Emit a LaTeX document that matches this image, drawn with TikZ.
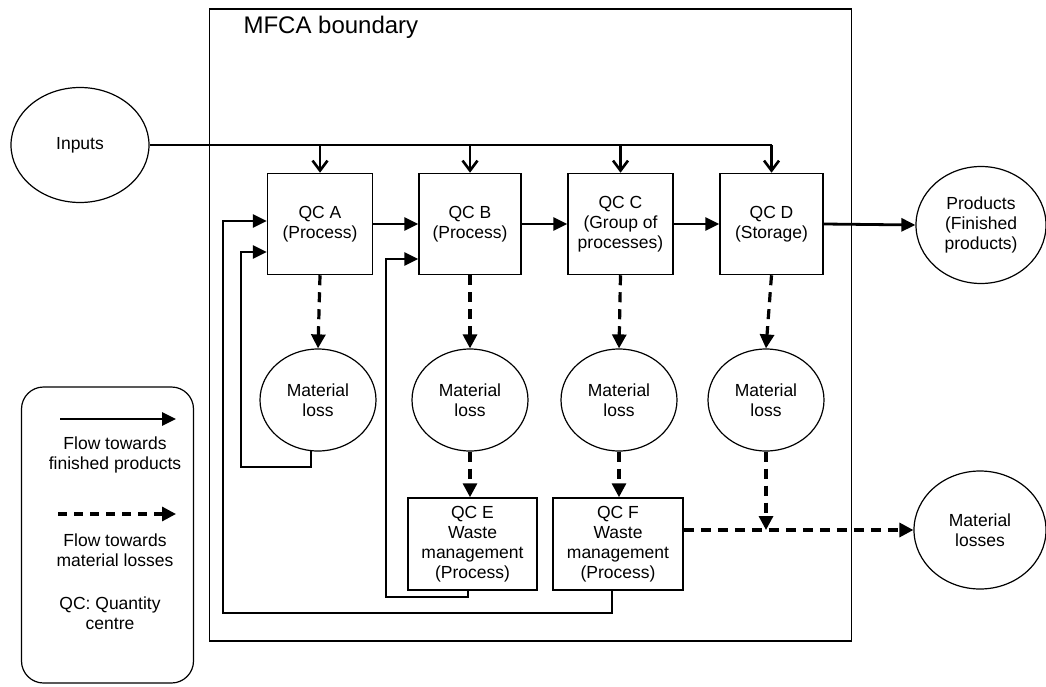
\documentclass[tikz,border=0pt]{standalone}
\usepackage{fontspec}
\setmainfont{Liberation Sans}
\usetikzlibrary{arrows.meta,shapes.geometric}
\begin{document}
\begin{tikzpicture}[x=1pt,y=-1pt,
  txt/.style={font=\fontsize{17.5}{20}\selectfont, align=center},
  qcbox/.style={txt, draw, line width=1.5pt, rectangle, inner sep=0pt},
  oval/.style={txt, draw, line width=1.2pt, ellipse, inner sep=0pt},
  flow/.style={line width=2.8pt, -{Triangle[length=14pt,width=13pt]}},
  feed/.style={line width=2.8pt, -{Triangle[length=14pt,width=13pt]}},
  inflow/.style={line width=2.6pt, -{Straight Barb[length=10pt,width=15pt]}},
  lossflow/.style={line width=3.2pt, dash pattern=on 10pt off 7pt, -{Triangle[length=14pt,width=14pt]}},
]
\useasboundingbox (0,0) rectangle (1046,687);
% MFCA boundary
\node[draw, line width=1.1pt, minimum width=642pt, minimum height=632pt, inner sep=0pt] (bound) at (530.5,325) {};
\node[font=\fontsize{24}{28}\selectfont, anchor=west] (btitle) at (240,27) {MFCA boundary};

% Inputs
\node[oval, minimum width=138pt, minimum height=115pt] (inputs) at (80,145) {Inputs};

% QC boxes
\node[qcbox, minimum width=105pt, minimum height=101pt] (qa) at (320,224) {QC A\\(Process)};
\node[qcbox, minimum width=102pt, minimum height=101pt] (qb) at (470,224) {QC B\\(Process)};
\node[qcbox, minimum width=105pt, minimum height=101pt] (qc) at (620.5,224) {QC C\\(Group of\\processes)};
\node[qcbox, minimum width=103pt, minimum height=101pt] (qd) at (771.5,224) {QC D\\(Storage)};

% Products
\node[oval, minimum width=130pt, minimum height=117pt] (prod) at (981,225) {Products\\(Finished\\products)};

% Material loss circles
\node[oval, minimum width=116pt, minimum height=102pt] (la) at (318,400) {Material\\loss};
\node[oval, minimum width=116pt, minimum height=102pt] (lb) at (470,400) {Material\\loss};
\node[oval, minimum width=116pt, minimum height=102pt] (lc) at (619,400) {Material\\loss};
\node[oval, minimum width=116pt, minimum height=102pt] (ld) at (766,400) {Material\\loss};

% QC E, F
\node[qcbox, minimum width=129pt, minimum height=92pt] (qe) at (472.5,544) {QC E\\Waste\\management\\(Process)};
\node[qcbox, minimum width=130pt, minimum height=92pt] (qf) at (618,544) {QC F\\Waste\\management\\(Process)};

% Material losses
\node[oval, minimum width=132pt, minimum height=118pt] (mloss) at (980,530) {Material\\losses};

% Inputs line
\coordinate (iend) at (qd.north |- inputs.east);
\draw[line width=2.6pt] (inputs.east) -- (iend);
\foreach \n in {qa,qb,qc,qd}{
  \draw[inflow] (\n.north |- inputs.east) -- (\n.north);
}

% Product flow
\draw[flow] (qa.east) -- (qb.west);
\draw[flow] (qb.east) -- (qc.west);
\draw[flow] (qc.east) -- (qd.west);
\draw[flow] (qd.east) -- (prod.west);

% Loss flows
\draw[lossflow] (qa.south) -- (la.north);
\draw[lossflow] (qb.south) -- (lb.north);
\draw[lossflow] (qc.south) -- (lc.north);
\draw[lossflow] (qd.south) -- (ld.north);
\draw[lossflow] (lb.south) -- (lb.south |- qe.north);
\draw[lossflow] (lc.south) -- (lc.south |- qf.north);
\coordinate (mjoin) at (ld.south |- mloss.west);
\draw[lossflow] (ld.south) -- (mjoin);
\draw[lossflow] (qf.east |- mloss.west) -- (mloss.west);

% Feedback loops
\coordinate (fa1) at (311,451);
\draw[feed] (fa1) -- (311,467) -- (241,467) -- (241,252) -- (qa.west |- 0,252);
\coordinate (fe1) at (468,590);
\draw[feed] (fe1) -- (468,597) -- (386,597) -- (386,259) -- (qb.west |- 0,259);
\coordinate (ff1) at (612,590);
\draw[feed] (ff1) -- (612,613) -- (223,613) -- (223,221) -- (qa.west |- 0,221);

% Legend
\node[draw, line width=1.2pt, rounded corners=22pt, minimum width=172pt, minimum height=296pt, inner sep=0pt] (legend) at (107.5,535) {};
\coordinate (l1a) at (60,419);
\coordinate (l1b) at (176,419);
\draw[flow] (l1a) -- (l1b);
\node[txt] (lt1) at (115,455) {Flow towards\\finished products};
\coordinate (l2a) at (58,514);
\coordinate (l2b) at (176,514);
\draw[lossflow, dash pattern=on 9pt off 7pt] (l2a) -- (l2b);
\node[txt] (lt2) at (115,550) {Flow towards\\material losses};
\node[txt] (lt3) at (110,613) {QC: Quantity\\centre};
\end{tikzpicture}
\end{document}
